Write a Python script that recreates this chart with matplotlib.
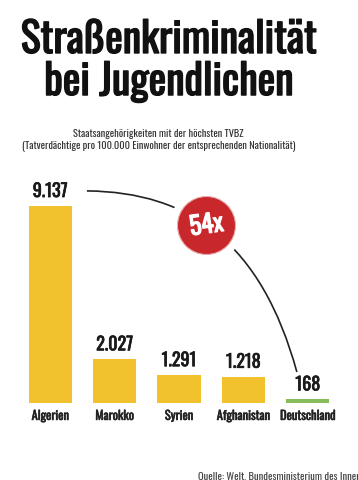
import numpy as np
import matplotlib.pyplot as plt
import matplotlib.patheffects as pe
from matplotlib import font_manager as fm
from matplotlib.path import Path
from matplotlib.patches import PathPatch

countries = ["Algerien", "Marokko", "Syrien", "Afghanistan", "Deutschland"]
tvbz = [9137, 2027, 1291, 1218, 168]
bar_colors = ["#f2c12e", "#f2c12e", "#f2c12e", "#f2c12e", "#86bd5a"]
factor_label = "54x"

title = "Straßenkriminalität\nbei Jugendlichen"
subtitle = ("Staatsangehörigkeiten mit der höchsten TVBZ\n"
            "(Tatverdächtige pro 100.000 Einwohner der entsprechenden Nationalität)")
source = "Quelle: Welt, Bundesministerium des Innern"


def pick_font(candidates):
    for name in candidates:
        try:
            fm.findfont(fm.FontProperties(family=name), fallback_to_default=False)
            return name
        except ValueError:
            pass
    return "DejaVu Sans"


def heavy(lw, color):
    # thicken the strokes a bit, the installed face is lighter than the original
    return [pe.withStroke(linewidth=lw, foreground=color)]


FONT = pick_font(["Oswald", "Barlow Condensed", "Fira Sans Condensed", "Archivo Narrow"])
plt.rcParams['font.family'] = [FONT, "DejaVu Sans"]

fig = plt.figure(figsize=(3.58, 4.8), dpi=100)
ax = fig.add_axes([0.0503, 0.1604, 0.8994, 0.539])

x = np.arange(len(countries))
bars = ax.bar(x, tvbz, width=0.67, color=bar_colors, zorder=2)
vlabels = ax.bar_label(bars, labels=[f"{v:,}".replace(",", ".") for v in tvbz],
                       padding=4.3, fontsize=13, fontweight='bold', color="#1a1a1a")
for t_ in vlabels:
    t_.set_path_effects(heavy(0.5, "#1a1a1a"))

ax.set_xlim(-0.5, 4.5)
ax.set_ylim(0, 12000)
ax.set_xticks(x)
ax.set_xticklabels(countries, fontsize=9, fontweight='bold', color="#222222")
for t_ in ax.get_xticklabels():
    t_.set_path_effects(heavy(0.4, "#222222"))
ax.tick_params(axis='x', length=0, pad=5)
ax.set_yticks([])
for s in ax.spines.values():
    s.set_visible(False)

# curved connector from the highest to the lowest value
p0 = (x[0] + 0.57, tvbz[0] + 700)
p1 = (2.17, 9790)
p2 = (3.28, 7420)
p3 = (x[4] - 0.17, tvbz[4] + 1270)
curve = Path([p0, p1, p2, p3], [Path.MOVETO, Path.CURVE4, Path.CURVE4, Path.CURVE4])
ax.add_patch(PathPatch(curve, facecolor='none', edgecolor="#222222", lw=1.2, zorder=3))

t = 0.45
pts = np.array([p0, p1, p2, p3])
coef = np.array([(1 - t) ** 3, 3 * (1 - t) ** 2 * t, 3 * (1 - t) * t ** 2, t ** 3])
cx, cy = coef @ pts
ax.scatter([cx], [cy], s=(36 * 0.72 * 2) ** 2, color="white", zorder=4, clip_on=False)
ax.scatter([cx], [cy], s=(29 * 0.72 * 2) ** 2, color="#c8282c",
           edgecolor="#e9a9a9", linewidth=0.8, zorder=5, clip_on=False)
ax.text(cx, cy, factor_label, ha='center', va='center', fontsize=18,
        fontweight='bold', color="white", rotation=8, zorder=6,
        path_effects=heavy(0.8, "white"))

lines = title.split("\n")
fig.text(0.4707, 0.8896, lines[0], ha='center', va='baseline', fontsize=30,
         fontweight='bold', color="#111111", path_effects=heavy(1.0, "#111111"))
fig.text(0.4707, 0.802, lines[1], ha='center', va='baseline', fontsize=30,
         fontweight='bold', color="#111111", path_effects=heavy(1.0, "#111111"))
fig.text(0.443, 0.709, subtitle, ha='center', va='center', fontsize=7.4,
         color="#333333", linespacing=1.15)
fig.text(0.553, -0.002, source, ha='left', va='bottom', fontsize=7.6, color="#444444")

fig.savefig("out.png", dpi=100, facecolor="white")
